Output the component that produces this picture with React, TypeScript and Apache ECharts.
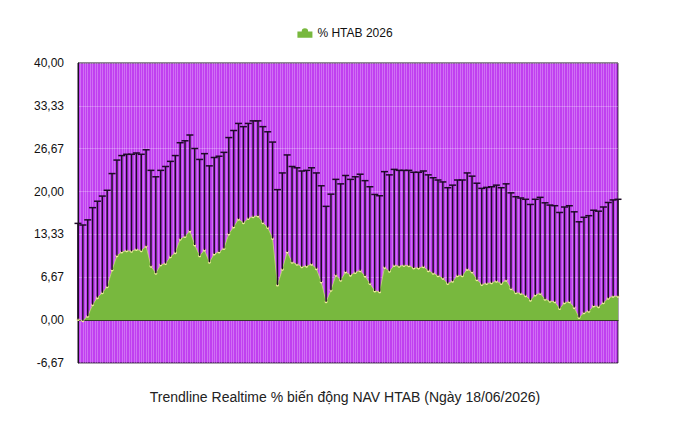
import React, { useEffect, useRef } from "react";
import * as echarts from "echarts";

const seriesName = "% HTAB 2026";
const chartTitle = "Trendline Realtime % biến động NAV HTAB (Ngày 18/06/2026)";

const lowValues = [
  0.1, -0.1, 0.6, 2.4, 3.5, 4.25, 5.2, 7.8, 10.0, 10.6,
  10.8, 10.7, 11.0, 10.8, 11.5, 8.4, 7.3, 8.6, 8.8, 9.85,
  10.5, 12.6, 13.0, 13.85, 11.7, 10.0, 10.9, 9.0, 10.3, 10.6,
  11.15, 13.4, 14.5, 15.7, 15.15, 15.8, 16.1, 16.2, 15.15, 14.4,
  12.7, 5.45, 7.9, 10.6, 9.0, 8.7, 8.3, 8.4, 8.7, 8.0,
  5.95, 2.85, 4.65, 7.0, 6.2, 7.5, 7.0, 7.4, 7.7, 6.85,
  5.7, 4.55, 4.4, 8.2, 7.6, 8.5, 8.4, 8.5, 8.45, 8.1,
  8.1, 8.3, 7.7, 7.3, 6.9, 6.5, 5.7, 6.05, 6.9, 6.9,
  7.9, 7.5, 6.3, 5.55, 5.7, 5.8, 6.05, 5.7, 6.2, 4.9,
  4.25, 4.15, 3.8, 3.1, 3.9, 4.15, 3.25, 2.95, 2.85, 1.8,
  2.7, 2.85, 1.95, 0.4, 1.15, 1.4, 2.2, 2.1, 2.7, 3.4,
  3.7, 3.7,
];

const highValues = [
  15.05, 14.8, 15.6, 17.5, 18.5, 19.3, 20.2, 22.8, 24.9, 25.6,
  25.8, 25.8, 26.0, 25.8, 26.5, 23.3, 22.3, 23.3, 23.9, 24.7,
  25.6, 27.6, 27.9, 28.8, 26.7, 25.0, 25.9, 24.0, 25.3, 25.5,
  26.1, 28.4, 29.5, 30.6, 30.1, 30.6, 31.0, 31.0, 30.1, 29.3,
  27.7, 20.3, 22.9, 25.7, 23.9, 23.7, 23.2, 23.3, 23.7, 22.9,
  20.9, 17.7, 19.6, 21.9, 21.2, 22.5, 21.9, 22.3, 22.7, 21.7,
  20.75, 19.55, 19.35, 23.1, 22.6, 23.45, 23.3, 23.3, 23.3, 23.0,
  23.0, 23.2, 22.6, 22.15, 21.8, 21.5, 20.6, 21.0, 21.8, 21.8,
  22.9, 22.4, 21.3, 20.5, 20.65, 20.75, 21.0, 20.6, 21.2, 19.8,
  19.2, 19.0, 18.8, 18.0, 18.8, 19.1, 18.25, 17.9, 17.8, 16.75,
  17.6, 17.8, 16.85, 15.3, 16.0, 16.25, 17.1, 16.95, 17.6, 18.3,
  18.7, 18.8,
];

const yMin = -20 / 3;
const yMax = 40;
const yStep = 20 / 3;

export default function App() {
  const ref = useRef<HTMLDivElement>(null);

  useEffect(() => {
    if (!ref.current) return;
    const chart = echarts.init(ref.current, undefined, { renderer: "svg" });

    const areaData = lowValues.map((v, i) => [i, v]);
    const barData = lowValues.map((v, i) => [i, v, highValues[i]]);

    const option: any = {
      animation: false,
      textStyle: { fontFamily: "Liberation Sans, Arial, sans-serif" },
      title: {
        text: chartTitle,
        left: "center",
        top: 385,
        textStyle: {
          fontSize: 14,
          fontWeight: "normal",
          color: "#222",
          fontFamily: "Liberation Sans, Arial, sans-serif",
        },
      },
      legend: {
        top: 22,
        left: "center",
        itemWidth: 15,
        itemHeight: 10,
        itemGap: 8,
        textStyle: { fontSize: 12, color: "#111" },
        data: [
          {
            name: seriesName,
            icon: "path://M0,5 L4,5 A3,3 0 0 1 10,5 L14,5 L14,11 L0,11 Z",
            itemStyle: { color: "#78b83e" },
          },
        ],
      },
      grid: {
        left: 78,
        right: 72,
        top: 63,
        bottom: 67,
        show: true,
        backgroundColor: "#c040f0",
        borderColor: "#1a1020",
        borderWidth: 1,
      },
      xAxis: {
        type: "value",
        min: 0,
        max: lowValues.length - 1,
        interval: 0.5,
        axisLabel: { show: false },
        axisTick: { show: false },
        axisLine: { show: true, lineStyle: { color: "#1a1020", width: 1 } },
        splitLine: {
          show: true,
          lineStyle: { color: "rgba(255,255,255,0.25)", width: 1 },
        },
      },
      yAxis: {
        type: "value",
        min: yMin,
        max: yMax,
        interval: yStep,
        axisLine: { show: true, lineStyle: { color: "#1a1020", width: 1 } },
        axisTick: { show: false },
        axisLabel: {
          fontSize: 12,
          color: "#111",
          margin: 14,
          formatter: (v: number) => v.toFixed(2).replace(".", ","),
        },
        splitLine: {
          show: true,
          lineStyle: { color: "rgba(255,255,255,0.25)", width: 1 },
        },
      },
      series: [
        {
          name: seriesName,
          type: "line",
          data: areaData,
          symbol: "circle",
          symbolSize: 3,
          showSymbol: true,
          itemStyle: { color: "#f0ee9a" },
          lineStyle: { color: "#c9dd7a", width: 0.8 },
          areaStyle: { color: "#78b83e", opacity: 1, origin: 0 },
          z: 2,
        },
        {
          name: "range",
          type: "custom",
          data: barData,
          encode: { x: 0, y: [1, 2] },
          z: 3,
          renderItem: (params: any, api: any) => {
            const x = api.value(0);
            const lo = api.coord([x, api.value(1)]);
            const hi = api.coord([x, api.value(2)]);
            const half = 3.5;
            const style = { stroke: "#1e0a26", lineWidth: 1.5 };
            return {
              type: "group",
              children: [
                {
                  type: "line",
                  shape: { x1: lo[0], y1: lo[1], x2: hi[0], y2: hi[1] },
                  style,
                },
                {
                  type: "line",
                  shape: { x1: hi[0] - half, y1: hi[1], x2: hi[0] + half, y2: hi[1] },
                  style,
                },
              ],
            };
          },
        },
      ],
    };

    chart.setOption(option);
    return () => chart.dispose();
  }, []);

  return <div ref={ref} style={{ width: 690, height: 430, margin: -8 }} />;
}
